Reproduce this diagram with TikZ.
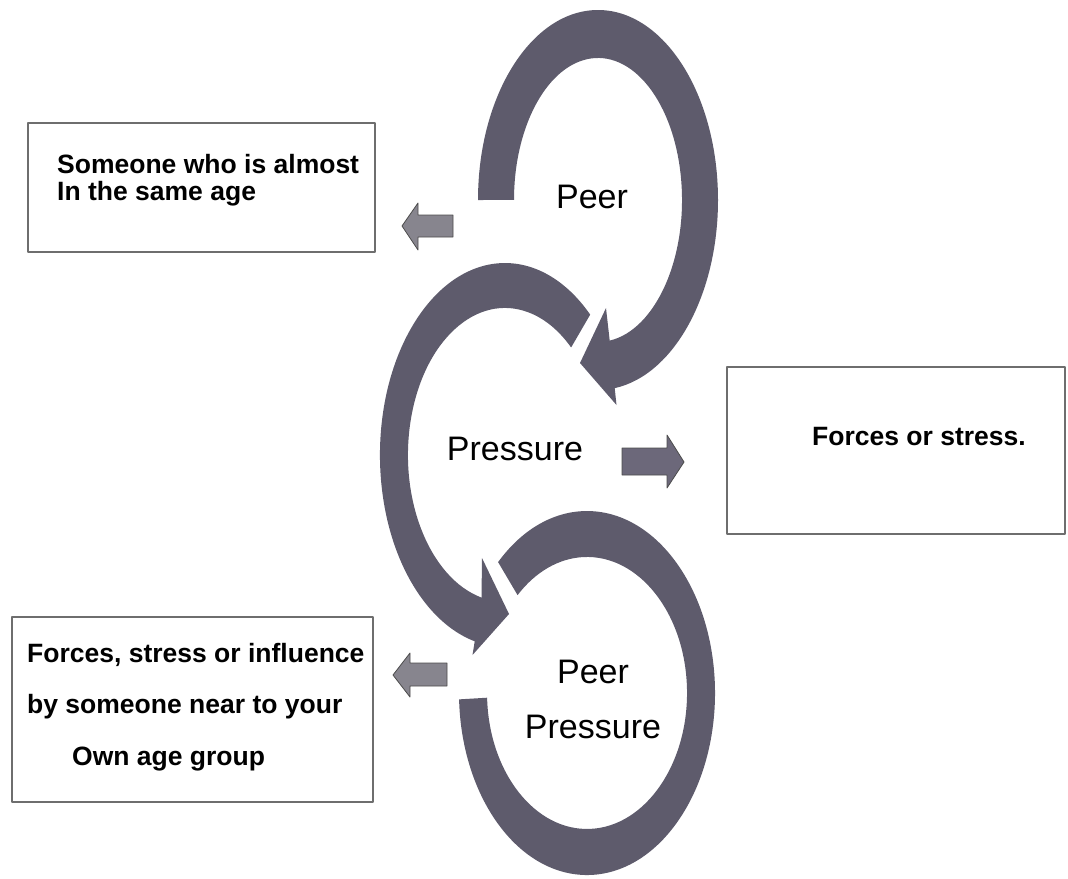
\documentclass[tikz,border=0pt]{standalone}
\usepackage{fontspec}
\setmainfont{Liberation Sans}
\definecolor{ringgrey}{RGB}{94,91,108}
\definecolor{arrowgrey}{RGB}{135,133,142}
\definecolor{arrowdark}{RGB}{108,104,122}
\definecolor{boxline}{RGB}{110,110,110}
\tikzset{
  ring/.style={fill=ringgrey},
  blockarrow/.style={draw=black!70,line width=0.8,fill=arrowgrey},
  box/.style={draw=boxline,line width=1.3,rectangle,inner sep=0},
  boxtext/.style={font=\bfseries\fontsize{26.5}{27}\selectfont,align=left,inner sep=0},
  ringtext/.style={font=\fontsize{34}{55}\selectfont,align=center,inner sep=0}
}
\begin{document}
\begin{tikzpicture}[line join=round,x=1pt,y=-1pt]
	\useasboundingbox (0,0) rectangle (1068,878);
	
	\fill[ring] (478,200) arc[start angle=180,end angle=442,x radius=120,y radius=190]
		-- (616.5,405) -- (580,363) -- (606,308) -- (609.7,340.6)
		arc[start angle=442,end angle=180,x radius=84,y radius=142] -- cycle;
	\fill[ring] (590.2,314.6) arc[start angle=313,end angle=104,x radius=125,y radius=192]
		-- (472.5,655) -- (509,614) -- (482,558) -- (481.5,597.6)
		arc[start angle=104,end angle=313,x radius=97,y radius=147] -- cycle;
	\fill[ring] (498.1,562.1) arc[start angle=226,end angle=538,x radius=128,y radius=182]
		-- (487.1,697.7) arc[start angle=538,end angle=226,x radius=100,y radius=136] -- cycle;
	
	\draw[blockarrow] (402,226) -- (418,203) -- (418,215) -- (453,215) -- (453,237) -- (418,237) -- (418,250) -- cycle;
	\draw[blockarrow,fill=arrowdark] (684,462) -- (667,435) -- (667,448) -- (622,448) -- (622,475) -- (667,475) -- (667,488) -- cycle;
	\draw[blockarrow] (393,675) -- (410,653) -- (410,663) -- (447,663) -- (447,686) -- (410,686) -- (410,697) -- cycle;
	
	\node[ringtext,anchor=base] (peer) at (592,208) {Peer};
	\node[ringtext,anchor=base] (pressure) at (515,460) {Pressure};
	\node[ringtext,anchor=base] (peerpressure) at (593,738) {Peer\\Pressure};
	
	\node[box,minimum width=347,minimum height=129] (boxpeer) at (201.5,187.5) {};
	\node[box,minimum width=338,minimum height=167] (boxpressure) at (896,450.5) {};
	\node[box,minimum width=361,minimum height=185] (boxpeerpressure) at (192.5,709.5) {};
	
	\node[boxtext,anchor=base west] (txtpeer) at (57,200) {Someone who is almost\\In the same age};
	\node[boxtext,anchor=base west] (txtpressure) at (812,445) {Forces or stress.};
	\node[boxtext,anchor=base west,font=\bfseries\fontsize{26.5}{51.5}\selectfont] (txtpeerpressure) at (27,765)
		{Forces, stress or influence\\by someone near to your\\\hspace*{45pt}Own age group};
\end{tikzpicture}
\end{document}
